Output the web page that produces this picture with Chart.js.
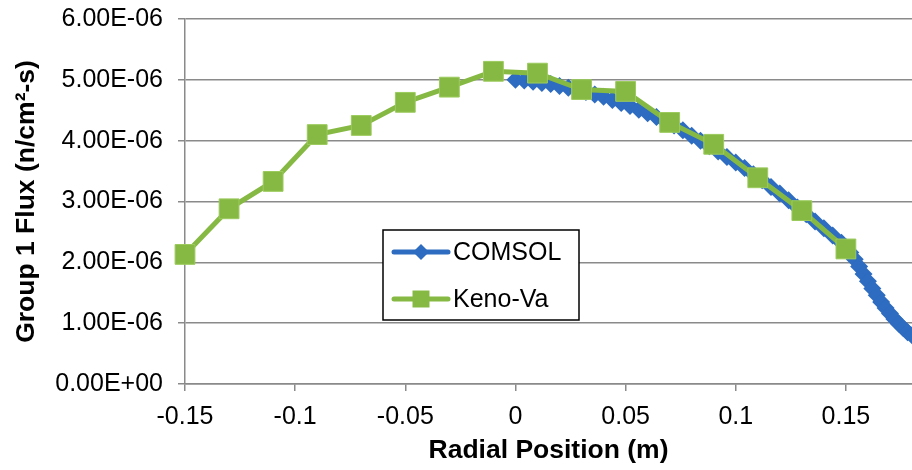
<!DOCTYPE html>
<html>
<head>
<meta charset="utf-8">
<script src="https://cdn.jsdelivr.net/npm/chart.js@4.4.1/dist/chart.umd.min.js"></script>
<style>
    html, body { margin: 0; padding: 0; background: #ffffff; overflow: hidden; }
    .chart-wrap { width: 912px; height: 470px; }
    .js-graph { display: block; }
</style>
</head>
<body>
<div class="chart-wrap"><canvas class="js-graph" width="912" height="470"></canvas></div>
<script>
// flux values below are in units of 1e-6 n/cm2-s
const FLUX_UNIT = 1e-6;

const keno_x = [-0.15, -0.13, -0.11, -0.09, -0.07, -0.05, -0.03, -0.01, 0.01, 0.03, 0.05, 0.07, 0.09, 0.11, 0.13, 0.15];
const keno_flux = [2.13, 2.88, 3.33, 4.10, 4.25, 4.63, 4.88, 5.14, 5.11, 4.84, 4.81, 4.30, 3.94, 3.39, 2.85, 2.22];

const comsol_x = [0.000, 0.004, 0.008, 0.012, 0.016, 0.020, 0.024, 0.028, 0.032, 0.036,
    0.040, 0.044, 0.048, 0.052, 0.056, 0.060, 0.064, 0.068, 0.072, 0.076,
    0.080, 0.084, 0.088, 0.092, 0.096, 0.100, 0.104, 0.108, 0.112, 0.116,
    0.120, 0.124, 0.128, 0.132, 0.136, 0.140, 0.144, 0.148, 0.150, 0.152,
    0.154, 0.156, 0.158, 0.160, 0.162, 0.164, 0.166, 0.168, 0.170, 0.172,
    0.174, 0.176, 0.178, 0.180];
const comsol_flux = [5.00, 4.99, 4.97, 4.95, 4.93, 4.90, 4.87, 4.84, 4.80, 4.76,
    4.72, 4.67, 4.62, 4.57, 4.51, 4.45, 4.39, 4.32, 4.25, 4.17,
    4.08, 4.00, 3.91, 3.82, 3.73, 3.64, 3.55, 3.45, 3.35, 3.24,
    3.13, 3.02, 2.90, 2.79, 2.67, 2.56, 2.44, 2.32, 2.25, 2.16,
    2.05, 1.93, 1.81, 1.69, 1.57, 1.46, 1.35, 1.25, 1.16, 1.07,
    0.99, 0.92, 0.85, 0.80];

const x_ticks = [-0.15, -0.1, -0.05, 0, 0.05, 0.1, 0.15];
const y_ticks = [0, 1, 2, 3, 4, 5, 6];

const series_names = ['COMSOL', 'Keno-Va'];
const blue = '#2d6cc0';
const green = '#86b943';
const grid_grey = '#8a8a8a';
const font_family = '"Liberation Sans", Arial, sans-serif';

const to_points = (xs, ys) => xs.map((x, i) => ({ x: x, y: ys[i] * FLUX_UNIT }));

const format_sci = (v) => {
    if (v === 0) return '0.00E+00';
    const parts = Number(v).toExponential(2).split('e');
    const exp = parseInt(parts[1], 10);
    return parts[0] + 'E' + (exp < 0 ? '-' : '+') + String(Math.abs(exp)).padStart(2, '0');
};

// legend drawn as a boxed key inside the plot, like the original
const inner_legend = {
    id: 'inner_legend',
    afterDraw: (chart) => {
        const ctx = chart.ctx;
        const box = { left: 383, top: 230, width: 196, height: 90 };
        ctx.save();
        ctx.fillStyle = '#ffffff';
        ctx.fillRect(box.left, box.top, box.width, box.height);
        ctx.strokeStyle = '#000000';
        ctx.lineWidth = 1.5;
        ctx.strokeRect(box.left, box.top, box.width, box.height);

        const rows = [
            { name: series_names[0], color: blue, style: 'rectRot', radius: 8, y: box.top + 22 },
            { name: series_names[1], color: green, style: 'rect', radius: 12, y: box.top + 69 }
        ];
        rows.forEach(row => {
            ctx.strokeStyle = row.color;
            ctx.lineWidth = 5;
            ctx.lineCap = 'round';
            ctx.beginPath();
            ctx.moveTo(box.left + 11, row.y);
            ctx.lineTo(box.left + 65, row.y);
            ctx.stroke();
            ctx.fillStyle = row.color;
            Chart.helpers.drawPoint(ctx, { pointStyle: row.style, radius: row.radius, borderWidth: 0 }, box.left + 38, row.y);
            ctx.fillStyle = '#000000';
            ctx.font = '25px ' + font_family;
            ctx.textBaseline = 'middle';
            ctx.textAlign = 'left';
            ctx.fillText(row.name, box.left + 70, row.y + 1);
        });
        ctx.restore();
    }
};

const draw_chart = () => {
    const ctx = document.querySelector('.js-graph').getContext('2d');

    const data = {
        datasets: [{
            label: series_names[0],
            data: to_points(comsol_x, comsol_flux),
            showLine: true,
            borderColor: blue,
            backgroundColor: blue,
            borderWidth: 7,
            pointStyle: 'rectRot',
            pointRadius: 9,
            pointBorderWidth: 0,
            pointBackgroundColor: blue,
            tension: 0,
            clip: false,
            order: 2
        }, {
            label: series_names[1],
            data: to_points(keno_x, keno_flux),
            showLine: true,
            borderColor: green,
            backgroundColor: green,
            borderWidth: 5,
            pointStyle: 'rect',
            pointRadius: 14,
            pointBorderWidth: 1,
            pointBorderColor: '#9ccb5e',
            pointBackgroundColor: green,
            tension: 0,
            clip: false,
            order: 1
        }]
    };

    new Chart(ctx, {
        type: 'scatter',
        data: data,
        plugins: [inner_legend],
        options: {
            responsive: false,
            animation: false,
            layout: { autoPadding: false, padding: { top: 19, right: 0, bottom: 0, left: 0 } },
            scales: {
                x: {
                    type: 'linear',
                    min: -0.15,
                    max: 0.18,
                    afterBuildTicks: (axis) => { axis.ticks = x_ticks.map(v => ({ value: v })); },
                    afterFit: (axis) => {
                        axis.height = 86;
                        axis.paddingLeft = 0;
                        axis.paddingRight = 0;
                    },
                    grid: {
                        drawOnChartArea: false,
                        drawTicks: true,
                        tickLength: 7,
                        color: grid_grey,
                        lineWidth: 1.5
                    },
                    border: { color: grid_grey, width: 1.5 },
                    ticks: {
                        color: '#000000',
                        font: { family: font_family, size: 25 },
                        padding: 11,
                        maxRotation: 0,
                        callback: (v) => String(Math.round(v * 100) / 100)
                    },
                    title: {
                        display: true,
                        text: 'Radial Position (m)',
                        color: '#000000',
                        font: { family: font_family, size: 26.5, weight: 'bold' },
                        padding: { top: 6, bottom: 3 }
                    }
                },
                y: {
                    type: 'linear',
                    min: 0,
                    max: 6 * FLUX_UNIT,
                    afterBuildTicks: (axis) => { axis.ticks = y_ticks.map(v => ({ value: v * FLUX_UNIT })); },
                    afterFit: (axis) => {
                        axis.width = 185;
                        axis.paddingTop = 0;
                        axis.paddingBottom = 0;
                    },
                    grid: {
                        drawTicks: true,
                        tickLength: 7,
                        color: grid_grey,
                        lineWidth: 1.5
                    },
                    border: { color: grid_grey, width: 1.5 },
                    ticks: {
                        color: '#000000',
                        font: { family: font_family, size: 25 },
                        padding: 15,
                        callback: (v) => format_sci(v)
                    },
                    title: {
                        display: true,
                        text: 'Group 1 Flux (n/cm²-s)',
                        color: '#000000',
                        font: { family: font_family, size: 26.5, weight: 'bold' },
                        padding: { top: 11, bottom: 0 }
                    }
                }
            },
            plugins: {
                legend: { display: false },
                tooltip: { enabled: false }
            }
        }
    });
};

draw_chart();
</script>
</body>
</html>
